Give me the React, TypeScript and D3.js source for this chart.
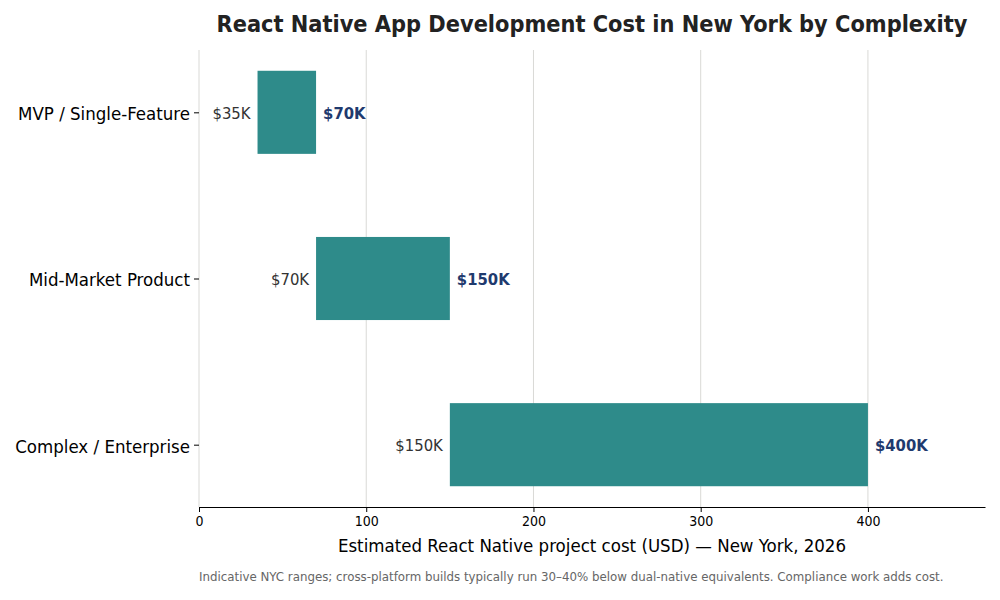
import React, { useEffect, useRef } from "react";
import * as d3 from "d3";

const categories = ["MVP / Single-Feature", "Mid-Market Product", "Complex / Enterprise"];
const lowCost = [35, 70, 150];
const highCost = [70, 150, 400];
const xTicks = [0, 100, 200, 300, 400];

const title = "React Native App Development Cost in New York by Complexity";
const xLabel = "Estimated React Native project cost (USD) — New York, 2026";
const footnote =
  "Indicative NYC ranges; cross-platform builds typically run 30–40% below dual-native equivalents. Compliance work adds cost.";

const App: React.FC = () => {
  const ref = useRef<SVGSVGElement | null>(null);

  useEffect(() => {
    if (!ref.current) return;
    const width = 1000;
    const height = 600;
    const margin = { top: 50, right: 15, bottom: 93, left: 199 };
    const font = "'DejaVu Sans Condensed', 'DejaVu Sans', sans-serif";

    const svg = d3.select(ref.current);
    svg.selectAll("*").remove();
    svg.attr("width", width).attr("height", height).style("font-family", font).style("font-stretch", "condensed");

    const x = d3
      .scaleLinear()
      .domain([0, 470])
      .range([margin.left, width - margin.right]);

    // matplotlib-style barh: centers at 0..2, ylim -0.375..2.375
    const y = d3
      .scaleLinear()
      .domain([-0.375, 2.375])
      .range([margin.top, height - margin.bottom]);
    const barH = y(0.5) - y(0);

    // grid
    svg
      .append("g")
      .selectAll("line")
      .data(xTicks)
      .enter()
      .append("line")
      .attr("x1", (d) => x(d))
      .attr("x2", (d) => x(d))
      .attr("y1", margin.top)
      .attr("y2", height - margin.bottom)
      .attr("stroke", "#d9d9d6")
      .attr("stroke-width", 1);

    // bars
    svg
      .append("g")
      .selectAll("rect")
      .data(categories)
      .enter()
      .append("rect")
      .attr("x", (_, i) => x(lowCost[i]))
      .attr("width", (_, i) => x(highCost[i]) - x(lowCost[i]))
      .attr("y", (_, i) => y(i) - barH / 2)
      .attr("height", barH)
      .attr("fill", "#2e8b8a");

    // start labels
    svg
      .append("g")
      .selectAll("text")
      .data(categories)
      .enter()
      .append("text")
      .attr("x", (_, i) => x(lowCost[i]) - 7)
      .attr("y", (_, i) => y(i))
      .attr("dy", "0.4em")
      .attr("text-anchor", "end")
      .style("font-size", "16.5px")
      .attr("fill", "#333333")
      .text((_, i) => `$${lowCost[i]}K`);

    // end labels
    svg
      .append("g")
      .selectAll("text")
      .data(categories)
      .enter()
      .append("text")
      .attr("x", (_, i) => x(highCost[i]) + 7)
      .attr("y", (_, i) => y(i))
      .attr("dy", "0.4em")
      .attr("text-anchor", "start")
      .style("font-size", "16.5px")
      .style("font-weight", "bold")
      .attr("fill", "#1f3a6e")
      .text((_, i) => `$${highCost[i]}K`);

    // x axis
    const xAxis = svg
      .append("g")
      .attr("transform", `translate(0, ${height - margin.bottom})`)
      .call(d3.axisBottom(x).tickValues(xTicks).tickSize(5).tickPadding(4).tickSizeOuter(0));
    xAxis.select(".domain").attr("stroke", "#000").attr("stroke-width", 1.2);
    xAxis.selectAll("text").style("font-size", "14px").style("font-family", font).attr("fill", "#000");

    // y axis (ticks only, no spine)
    const yAxis = svg
      .append("g")
      .attr("transform", `translate(${margin.left}, 0)`)
      .call(
        d3
          .axisLeft(y)
          .tickValues([0, 1, 2])
          .tickFormat((d) => categories[d as number])
          .tickSize(5)
          .tickPadding(4)
      );
    yAxis.select(".domain").remove();
    yAxis.selectAll("text").attr("dy", "0.4em").style("font-size", "18.5px").style("font-family", font).attr("fill", "#000");

    // title
    svg
      .append("text")
      .attr("x", (margin.left + width - margin.right) / 2)
      .attr("y", 32)
      .attr("text-anchor", "middle")
      .style("font-size", "23.3px")
      .style("font-weight", "bold")
      .attr("fill", "#222")
      .text(title);

    // x label
    svg
      .append("text")
      .attr("x", (margin.left + width - margin.right) / 2)
      .attr("y", 552)
      .attr("text-anchor", "middle")
      .style("font-size", "18.5px")
      .attr("fill", "#000")
      .text(xLabel);

    // footnote
    svg
      .append("text")
      .attr("x", margin.left)
      .attr("y", 581)
      .attr("text-anchor", "start")
      .style("font-size", "13.15px")
      .attr("fill", "#666")
      .text(footnote);
  }, []);

  return (
    <div style={{ width: 1000, height: 600, margin: -8 }}>
      <svg ref={ref}></svg>
    </div>
  );
};

export default App;
